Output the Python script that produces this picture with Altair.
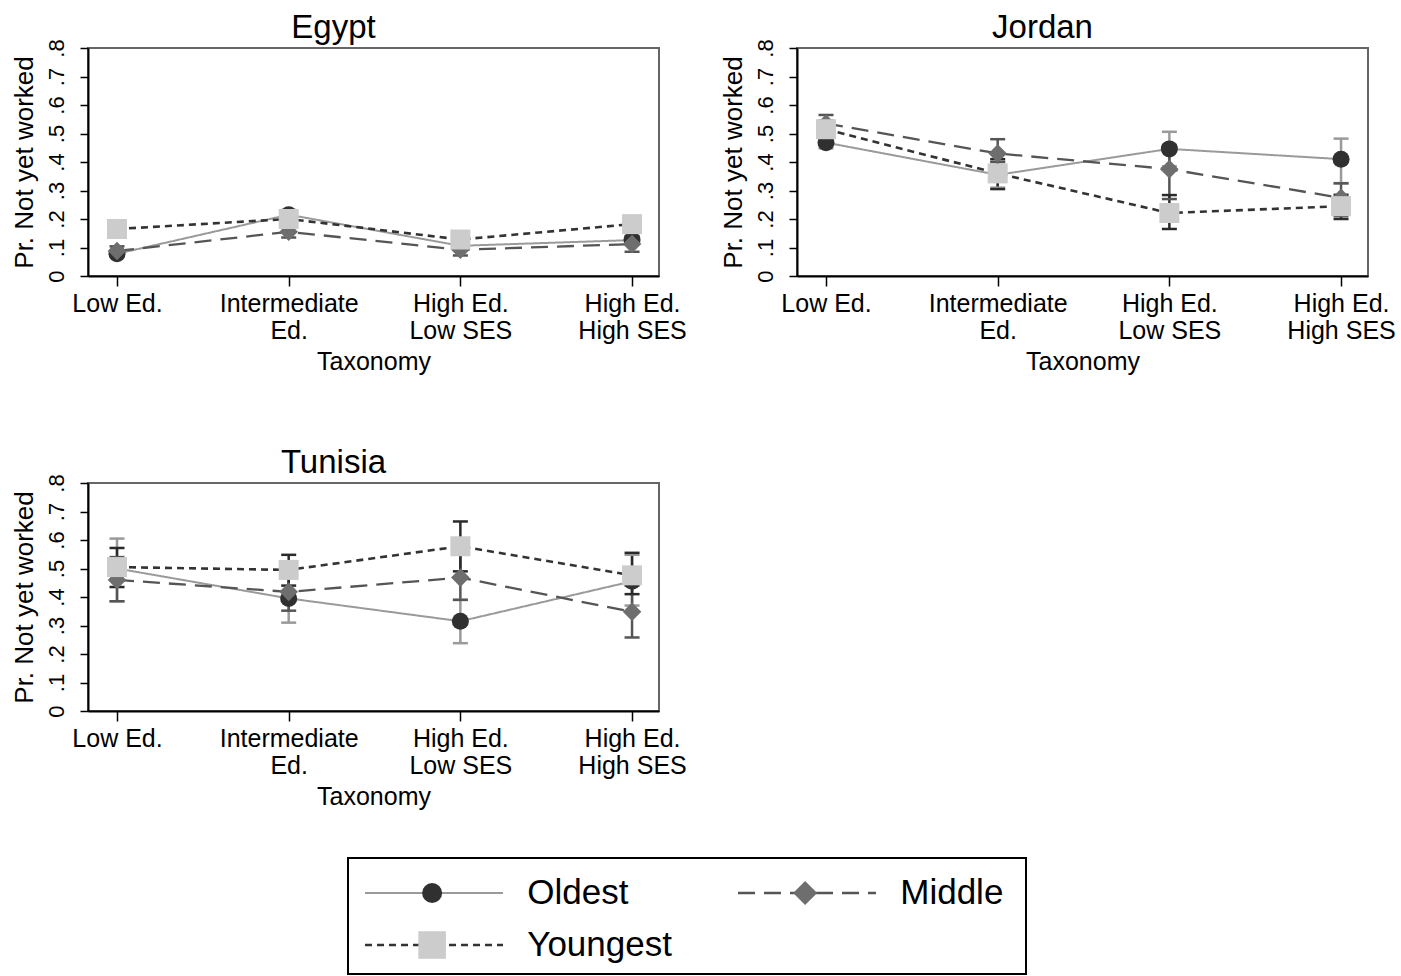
import json
import altair as alt
import pandas as pd

countries = ["Egypt", "Jordan", "Tunisia"]
series = ["Oldest", "Middle", "Youngest"]
categories = ["Low Ed.", "Intermediate Ed.", "High Ed. Low SES", "High Ed. High SES"]
category_labels = [["Low Ed."], ["Intermediate", "Ed."], ["High Ed.", "Low SES"], ["High Ed.", "High SES"]]
y_ticks = [0, 0.1, 0.2, 0.3, 0.4, 0.5, 0.6, 0.7, 0.8]

# point estimates and confidence bounds (per series, over the 4 categories)
egypt_est = {"Oldest": [0.078, 0.215, 0.106, 0.126],
             "Middle": [0.088, 0.155, 0.092, 0.112],
             "Youngest": [0.165, 0.200, 0.128, 0.182]}
egypt_lo = {"Oldest": [0.066, 0.200, 0.094, 0.112],
            "Middle": [0.072, 0.135, 0.072, 0.085],
            "Youngest": [0.150, 0.180, 0.112, 0.165]}
egypt_hi = {"Oldest": [0.090, 0.232, 0.118, 0.140],
            "Middle": [0.104, 0.175, 0.112, 0.140],
            "Youngest": [0.180, 0.220, 0.145, 0.200]}

jordan_est = {"Oldest": [0.468, 0.355, 0.446, 0.410],
              "Middle": [0.535, 0.430, 0.375, 0.274],
              "Youngest": [0.515, 0.360, 0.221, 0.245]}
jordan_lo = {"Oldest": [0.448, 0.310, 0.385, 0.326],
             "Middle": [0.510, 0.400, 0.270, 0.210],
             "Youngest": [0.485, 0.305, 0.165, 0.200]}
jordan_hi = {"Oldest": [0.488, 0.400, 0.506, 0.482],
             "Middle": [0.565, 0.480, 0.460, 0.325],
             "Youngest": [0.545, 0.410, 0.284, 0.285]}

tunisia_est = {"Oldest": [0.500, 0.395, 0.315, 0.455],
               "Middle": [0.460, 0.418, 0.468, 0.348],
               "Youngest": [0.505, 0.495, 0.578, 0.476]}
tunisia_lo = {"Oldest": [0.385, 0.310, 0.238, 0.370],
              "Middle": [0.385, 0.352, 0.390, 0.258],
              "Youngest": [0.435, 0.440, 0.490, 0.410]}
tunisia_hi = {"Oldest": [0.605, 0.480, 0.390, 0.548],
              "Middle": [0.540, 0.480, 0.550, 0.440],
              "Youngest": [0.572, 0.548, 0.665, 0.555]}

tables = {"Egypt": (egypt_est, egypt_lo, egypt_hi),
          "Jordan": (jordan_est, jordan_lo, jordan_hi),
          "Tunisia": (tunisia_est, tunisia_lo, tunisia_hi)}

rows = []
for c in countries:
    est, lo, hi = tables[c]
    for s in series:
        for i, cat in enumerate(categories):
            rows.append({"country": c, "series": s, "category": cat, "pos": i + 1,
                         "est": est[s][i], "lo": lo[s][i], "hi": hi[s][i]})
df = pd.DataFrame(rows)

FONT = "Liberation Sans"

x_label_expr = ""
for i, lab in enumerate(category_labels):
    x_label_expr += f"datum.value == {i + 1} ? {json.dumps(lab)} : "
x_label_expr += "''"
y_label_expr = "datum.value == 0 ? '0' : replace(format(datum.value, '.1f'), '0.', '.')"

line_scale = alt.Scale(domain=series, range=["#9a9a9a", "#555555", "#333333"])
marker_scale = alt.Scale(domain=series, range=["#303030", "#6e6e6e", "#cccccc"])
err_scale = alt.Scale(domain=series, range=["#9a9a9a", "#555555", "#2a2a2a"])
dash_scale = alt.Scale(domain=series, range=[[1, 0], [17, 9], [7, 5]])
width_scale = alt.Scale(domain=series, range=[2, 2.6, 2.6])
shape_scale = alt.Scale(domain=series, range=["circle", "diamond", "square"])
size_scale = alt.Scale(domain=series, range=[290, 400, 300])
leg_size_scale = alt.Scale(domain=series, range=[400, 760, 400])

x_axis = alt.Axis(values=[1, 2, 3, 4], labelExpr=x_label_expr, labelFontSize=25,
                  labelLineHeight=27, labelAngle=0, labelAlign="center", labelBaseline="top",
                  labelPadding=5, labelFlush=False, labelOverlap=False, labelBound=False,
                  tickSize=10, tickWidth=1.5, tickColor="black",
                  domainColor="black", domainWidth=2, grid=False,
                  titleFontSize=25, titleFontWeight="normal", titlePadding=6)
y_axis = alt.Axis(values=y_ticks, labelExpr=y_label_expr, labelFontSize=22, labelAngle=270,
                  labelPadding=12, labelFlush=False, labelOverlap=False,
                  tickSize=8, tickWidth=1.5, tickColor="black",
                  domainColor="black", domainWidth=2, grid=False,
                  titleFontSize=26, titleFontWeight="normal", titlePadding=8)

x_scale = alt.Scale(domain=[0.831, 4.157], nice=False, zero=False)
y_scale = alt.Scale(domain=[0, 0.8], nice=False, zero=False)
Y_TITLE = "Pr. Not yet worked"
X_TITLE = "Taxonomy"


def panel(country):
    base = alt.Chart(df).transform_filter(alt.datum.country == country)
    X = alt.X("pos:Q", scale=x_scale, axis=x_axis, title=X_TITLE)
    err = base.mark_rule(strokeWidth=2.5).encode(
        x=X,
        y=alt.Y("lo:Q", scale=y_scale, axis=y_axis, title=Y_TITLE),
        y2="hi:Q",
        color=alt.Color("series:N", scale=err_scale, legend=None),
    )
    caps = base.transform_fold(["lo", "hi"], as_=["bound", "bv"]).mark_tick(
        orient="horizontal", size=15, thickness=2.5, opacity=1
    ).encode(
        x=X,
        y=alt.Y("bv:Q", scale=y_scale, axis=y_axis, title=Y_TITLE),
        color=alt.Color("series:N", scale=err_scale, legend=None),
    )
    lines = base.mark_line(strokeCap="butt").encode(
        x=X,
        y=alt.Y("est:Q", scale=y_scale, axis=y_axis, title=Y_TITLE),
        stroke=alt.Stroke("series:N", scale=line_scale, legend=None),
        strokeDash=alt.StrokeDash("series:N", scale=dash_scale, legend=None),
        strokeWidth=alt.StrokeWidth("series:N", scale=width_scale, legend=None),
        order="pos:Q",
    )
    points = base.mark_point(filled=True, opacity=1, strokeWidth=0).encode(
        x=X,
        y=alt.Y("est:Q", scale=y_scale, axis=y_axis, title=Y_TITLE),
        fill=alt.Fill("series:N", scale=marker_scale, legend=None),
        shape=alt.Shape("series:N", scale=shape_scale, legend=None),
        size=alt.Size("series:N", scale=size_scale, legend=None),
    )
    return alt.layer(err, caps, lines, points).properties(
        width=571, height=228,
        title=alt.TitleParams(text=country, fontSize=33, font=FONT, fontWeight="normal",
                              anchor="middle", frame="group", dx=-40, offset=-6, color="black"),
        view=alt.ViewBackground(stroke="#666666", strokeWidth=2),
    )


# ---- legend built from the series list ----
leg = pd.DataFrame({"series": series})
leg["col"] = [i % 2 for i in range(len(series))]
leg["row"] = [i // 2 for i in range(len(series))]
leg["x0"] = leg["col"]
leg["x1"] = leg["col"] + 0.37
leg["xm"] = leg["col"] + 0.18
leg["xt"] = leg["col"] + 0.435

LEG_W, LEG_H = 678, 116
lx = alt.Scale(domain=[-17 / 373, (LEG_W - 17) / 373], nice=False, zero=False)
ly = alt.Scale(domain=[-35 / 52, (LEG_H - 35) / 52], nice=False, zero=False, reverse=True)
lbase = alt.Chart(leg)
leg_lines = lbase.mark_rule(strokeCap="butt").encode(
    x=alt.X("x0:Q", scale=lx, axis=None), x2="x1:Q",
    y=alt.Y("row:Q", scale=ly, axis=None),
    stroke=alt.Stroke("series:N", scale=line_scale, legend=None),
    strokeDash=alt.StrokeDash("series:N", scale=dash_scale, legend=None),
    strokeWidth=alt.StrokeWidth("series:N", scale=width_scale, legend=None),
)
leg_pts = lbase.mark_point(filled=True, opacity=1, strokeWidth=0).encode(
    x=alt.X("xm:Q", scale=lx, axis=None),
    y=alt.Y("row:Q", scale=ly, axis=None),
    fill=alt.Fill("series:N", scale=marker_scale, legend=None),
    shape=alt.Shape("series:N", scale=shape_scale, legend=None),
    size=alt.Size("series:N", scale=leg_size_scale, legend=None),
)
leg_txt = lbase.mark_text(align="left", baseline="middle", fontSize=35, font=FONT, color="black").encode(
    x=alt.X("xt:Q", scale=lx, axis=None),
    y=alt.Y("row:Q", scale=ly, axis=None),
    text="series:N",
)
legend = alt.layer(leg_lines, leg_pts, leg_txt).properties(
    width=LEG_W, height=LEG_H,
    view=alt.ViewBackground(stroke="black", strokeWidth=2),
)
spacer = alt.Chart(leg).mark_point(opacity=0).encode(
    x=alt.X("col:Q", axis=None), y=alt.Y("row:Q", axis=None)
).properties(width=256, height=LEG_H, view=alt.ViewBackground(strokeWidth=0))

top = alt.hconcat(panel("Egypt"), panel("Jordan"), spacing=31)
mid = alt.vconcat(top, panel("Tunisia"), spacing=70)
legend_row = alt.hconcat(spacer, legend, spacing=0)

chart = alt.vconcat(mid, legend_row, spacing=45).resolve_scale(
    size="independent"
).properties(
    padding={"left": 10, "top": 10, "right": 0, "bottom": 0},
    background="white",
).configure_axis(
    labelFont=FONT, titleFont=FONT, labelColor="black", titleColor="black"
).configure_title(font=FONT)

chart.save("out.html", embed_options={"renderer": "svg", "actions": False})
